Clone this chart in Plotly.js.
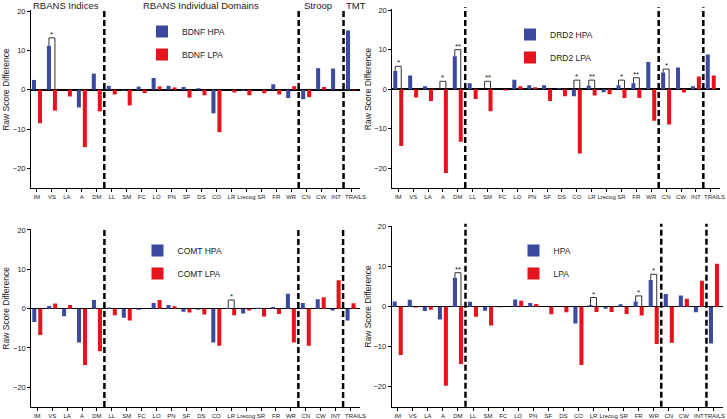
<!DOCTYPE html>
<html>
<head>
<meta charset="utf-8">
<script src="https://cdn.plot.ly/plotly-3.0.1.min.js"></script>
<style>html,body{margin:0;padding:0;background:#fff;}#chart{width:727px;height:419px;}</style>
</head>
<body>
<div id="chart"></div>
<script>
// ---- data ----
const categories = ['IM','VS','LA','A','DM','LL','SM','FC','LO','PN','SF','DS','CO','LR','Lrecog','SR','FR','WR','CN','CW','INT','TRAILS'];

const bdnfHPA = [2.5, 11.2, 0, -4.5, 4.1, 1.0, -0.25, 0.8, 3.0, 1.0, 0.7, 0.4, -6.0, 0, -0.3, 0, 1.4, -2.1, -2.4, 5.5, 5.4, 15.1];
const bdnfLPA = [-8.5, -5.3, -1.7, -14.6, -5.5, -1.2, -4.0, -0.85, 0.85, 0.6, -2.0, -1.4, -10.8, -0.7, -1.4, -0.9, -1.2, 0.9, -1.9, 0.7, 0, -0.2];

const drd2HPA = [4.6, 3.5, 0.75, 0, 8.35, 1.5, 0, 0, 2.4, 1.0, 1.0, 0.25, -1.8, 0.85, -0.75, 1.0, 1.5, 6.9, 4.2, 5.5, 0.75, 8.8];
const drd2LPA = [-14.4, -2.1, -3.0, -21.2, -13.3, -2.5, -5.6, -0.35, 0.75, 0.5, -3.0, -1.8, -16.3, -1.6, -1.3, -2.2, -2.2, -8.0, -8.9, -0.85, 3.2, 3.5];

const comtHPA = [-3.4, 0.7, -1.95, -8.6, 2.2, 0.3, -2.3, -0.25, 1.45, 0.9, -0.8, -0.25, -8.6, 0.25, -1.2, 0.25, 0.4, 3.8, 1.45, 2.4, -0.5, -3.0];
const comtLPA = [-6.7, 1.3, 0.9, -14.3, -10.8, -1.7, -3.0, 0, 2.2, 0.6, -1.0, -1.5, -9.4, -1.7, -0.5, -2.0, -1.35, -8.6, -9.4, 2.9, 7.2, 1.35];

const allHPA = [1.3, 1.75, -1.1, -3.2, 7.25, 1.25, -1.0, -0.15, 1.8, 0.9, 0, 0, -4.2, 0.4, -0.5, 0.6, 1.3, 6.7, 3.2, 2.8, -1.4, -9.2];
const allLPA = [-12.1, -0.2, -0.75, -19.75, -14.3, -2.5, -4.7, 0, 1.5, 0.65, -1.9, -1.4, -14.6, -1.35, -1.35, -1.8, -2.2, -9.3, -9.0, 2.0, 6.5, 10.75];

const seriesNames = [['BDNF HPA','BDNF LPA'],['DRD2 HPA','DRD2 LPA'],['COMT HPA','COMT LPA'],['HPA','LPA']];

// significance brackets: [category, bracket height, label]
const bdnfSig = [['VS', 13.2, '*']];
const drd2Sig = [['IM', 5.8, '*'], ['A', 2.0, '*'], ['DM', 10.0, '**'], ['SM', 2.0, '**'], ['CO', 2.3, '*'], ['LR', 2.3, '**'], ['SR', 2.3, '*'], ['FR', 2.9, '**'], ['CN', 5.1, '*']];
const comtSig = [['LR', 2.2, '*']];
const allSig = [['DM', 8.5, '**'], ['LR', 2.3, '*'], ['FR', 2.7, '*'], ['WR', 8.1, '*']];

const sectionLabels = ['RBANS Indices', 'RBANS Individual Domains', 'Stroop', 'TMT'];
const sectionCenters = [66, 201, 318, 356]; // px
const sectionBreaks = [4.5, 17.5, 20.5];   // between DM|LL, WR|CN, INT|TRAILS

// ---- styling ----
const BLUE = '#3b4a9e';
const RED = '#e5131d';
const FONT = 'Liberation Sans, Arial, Helvetica, sans-serif';
const W = 727, H = 419;
const BW = 0.27, OFF = 0.2;
const LAST = categories[categories.length - 1];

// the last tick label is drawn slightly to the right (as in the original figure)
const tickText = categories.map(c => c === LAST ? '' : c);

const panels = [
  {hpa: bdnfHPA, lpa: bdnfLPA, sig: bdnfSig, xd: [31, 360], yd: [10, 188], leg: [142, 17], shift: 4.5},
  {hpa: drd2HPA, lpa: drd2LPA, sig: drd2Sig, xd: [392.3, 719.7], yd: [9, 188], leg: [510, 20], shift: 4},
  {hpa: comtHPA, lpa: comtLPA, sig: comtSig, xd: [31.3, 359.5], yd: [228.8, 407], leg: [137.5, 236], shift: 4.5},
  {hpa: allHPA, lpa: allLPA, sig: allSig, xd: [391.7, 723], yd: [225.5, 406.7], leg: [513.5, 236], shift: 0.5}
];

const data = [];
const layout = {
  width: W, height: H,
  margin: {l: 0, r: 0, t: 0, b: 0},
  paper_bgcolor: '#fff', plot_bgcolor: '#fff',
  barmode: 'overlay',
  font: {family: FONT, color: '#222'},
  shapes: [], annotations: []
};

panels.forEach((p, k) => {
  const n = k === 0 ? '' : String(k + 1);
  const xa = 'x' + n, ya = 'y' + n;
  const legName = 'legend' + n;
  data.push({
    type: 'bar', x: categories, y: p.hpa, name: seriesNames[k][0],
    xaxis: xa, yaxis: ya, width: BW, offset: -OFF - BW / 2,
    marker: {color: BLUE, line: {width: 0}}, legend: legName, legendgroup: 'h' + k
  });
  data.push({
    type: 'bar', x: categories, y: p.lpa, name: seriesNames[k][1],
    xaxis: xa, yaxis: ya, width: BW, offset: OFF - BW / 2,
    marker: {color: RED, line: {width: 0}}, legend: legName, legendgroup: 'l' + k
  });
  layout['xaxis' + n] = {
    type: 'category', domain: [p.xd[0] / W, p.xd[1] / W], anchor: ya,
    range: [-0.4, 21.6], showgrid: false, zeroline: false,
    showline: true, linecolor: '#000', linewidth: 1,
    ticks: 'outside', ticklen: 3, tickwidth: 1, tickcolor: '#000',
    tickmode: 'array', tickvals: categories, ticktext: tickText,
    tickangle: 0, tickfont: {size: 6, family: FONT, color: '#222'}, fixedrange: true
  };
  layout['yaxis' + n] = {
    domain: [1 - p.yd[1] / H, 1 - p.yd[0] / H], anchor: xa,
    range: [-25, 20.3], tickvals: [-20, -10, 0, 10, 20],
    showgrid: false, zeroline: true, zerolinecolor: '#000', zerolinewidth: 1.5,
    showline: true, linecolor: '#000', linewidth: 1,
    ticks: 'outside', ticklen: 3, tickwidth: 1, tickcolor: '#000',
    tickfont: {size: 7.5, family: FONT, color: '#222'}, fixedrange: true
  };
  layout[legName] = {
    x: p.leg[0] / W, y: 1 - p.leg[1] / H, xanchor: 'left', yanchor: 'top',
    bgcolor: 'rgba(0,0,0,0)', borderwidth: 0, traceorder: 'grouped', tracegroupgap: 4,
    font: {size: 8.5, family: FONT, color: '#222'}
  };
  // last category label, nudged right
  layout.annotations.push({
    text: LAST, xref: xa, yref: ya + ' domain', x: categories.length - 1, y: 0,
    xanchor: 'center', yanchor: 'top', xshift: p.shift, yshift: -4, showarrow: false,
    font: {size: 6, family: FONT, color: '#222'}
  });
  // dashed section separators
  sectionBreaks.forEach(b => {
    layout.shapes.push({
      type: 'line', xref: xa, yref: ya + ' domain', x0: b, x1: b, y0: 0, y1: 1.01,
      line: {color: '#000', width: 2.5, dash: '6px,3px'}
    });
  });
  // y-axis title on zero line
  const titleX = (k % 2 === 0) ? 6 : 368;
  layout.annotations.push({
    text: 'Raw Score Difference', xref: 'paper', yref: ya, x: titleX / W, y: 0,
    textangle: -90, showarrow: false, xanchor: 'center', yanchor: 'middle',
    font: {size: 8.5, family: FONT, color: '#222'}
  });
  // significance brackets
  p.sig.forEach(s => {
    const i = categories.indexOf(s[0]);
    const xb = i - OFF, xr = i + OFF;
    const yb = Math.max(p.hpa[i], 0), yr = Math.max(p.lpa[i], 0), h = s[1];
    layout.shapes.push({
      type: 'path', xref: xa, yref: ya,
      path: `M${xb},${yb} L${xb},${h} L${xr},${h} L${xr},${yr}`,
      line: {color: '#333', width: 1}
    });
    layout.annotations.push({
      text: s[2], xref: xa, yref: ya, x: i, y: h, showarrow: false,
      xanchor: 'center', yanchor: 'bottom', yshift: -3,
      font: {size: 8, family: FONT, color: '#222'}
    });
  });
});

// section headers (top-left panel)
sectionLabels.forEach((t, j) => {
  layout.annotations.push({
    text: t, xref: 'paper', yref: 'paper', x: sectionCenters[j] / W, y: 1 - 6 / H,
    xanchor: 'center', yanchor: 'middle', showarrow: false,
    font: {size: 9.5, family: FONT, color: '#222'}
  });
});

Plotly.newPlot('chart', data, layout, {displayModeBar: false, staticPlot: true});
</script>
</body>
</html>
